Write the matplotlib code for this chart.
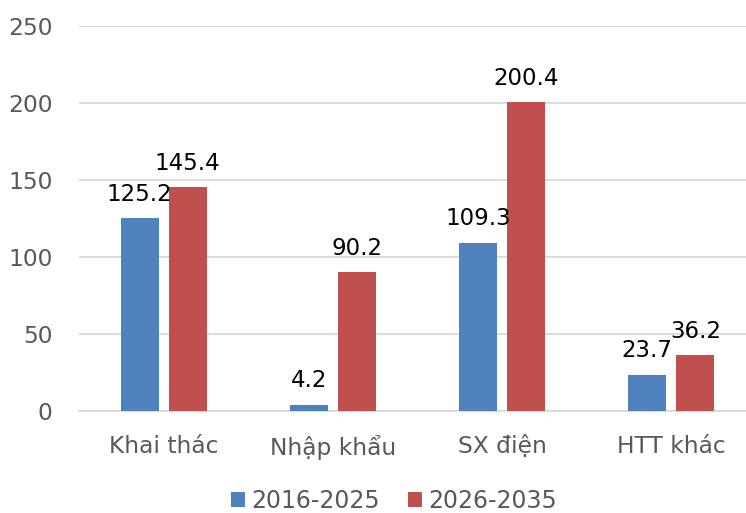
import matplotlib.pyplot as plt
import numpy as np

# Data
categories = ['Khai thác', 'Nhập khẩu', 'SX điện', 'HTT khác']
series_names = ['2016-2025', '2026-2035']
values_2016 = [125.2, 4.2, 109.3, 23.7]
values_2026 = [145.4, 90.2, 200.4, 36.2]
y_ticks = [0, 50, 100, 150, 200, 250]

blue = '#4F81BD'
red = '#C0504D'

plt.rcParams['font.family'] = ['DejaVu Sans']

fig = plt.figure(figsize=(7.46, 5.13), dpi=100)
ax = fig.add_axes([79 / 746, 102 / 513, 677 / 746, 385 / 513])

x = np.arange(len(categories))
width = 0.225
offset = 0.142

bars1 = ax.bar(x - offset, values_2016, width, color=blue, label=series_names[0], zorder=3)
bars2 = ax.bar(x + offset, values_2026, width, color=red, label=series_names[1], zorder=3)

# Value labels above each bar
for bars, vals in [(bars1, values_2016), (bars2, values_2026)]:
    for b, v in zip(bars, vals):
        ax.annotate(f'{v}', (b.get_x() + b.get_width() / 2, v),
                    xytext=(0, 9), textcoords='offset points',
                    ha='center', va='bottom', fontsize=16.5, color='black')

ax.set_xlim(-0.5, 3.5)
ax.set_ylim(0, 250)
ax.set_yticks(y_ticks)
ax.set_xticks(x)
ax.set_xticklabels(categories, fontsize=16.8, color='#595959')
ax.tick_params(axis='y', labelsize=16.8, labelcolor='#595959', length=0, pad=19)
ax.tick_params(axis='x', length=0, pad=17)

ax.grid(axis='y', color='#D9D9D9', linewidth=1.3, zorder=0)
for side in ['top', 'right', 'left']:
    ax.spines[side].set_visible(False)
ax.spines['bottom'].set_color('#D9D9D9')
ax.spines['bottom'].set_linewidth(1.3)

fig.legend(loc='center', bbox_to_anchor=(394 / 746, 1 - 501 / 513), ncol=2,
           frameon=False, fontsize=17, handlelength=0.6, handleheight=0.6,
           handletextpad=0.25, columnspacing=1.2, labelcolor='#595959')

fig.savefig('out.png', dpi=100)
